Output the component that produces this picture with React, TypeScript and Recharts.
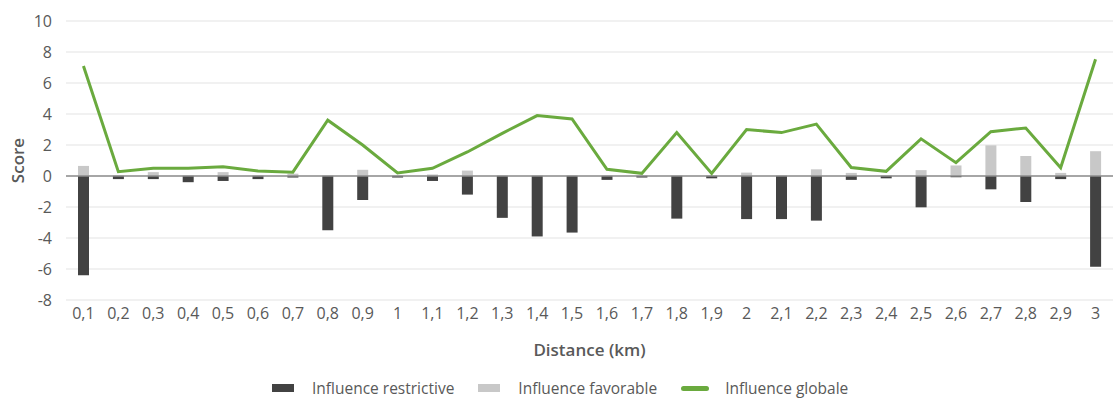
import React from "react"
import { Bar, ComposedChart, CartesianGrid, Legend, Line, ReferenceLine, XAxis, YAxis } from "recharts"

const distances = ["0,1", "0,2", "0,3", "0,4", "0,5", "0,6", "0,7", "0,8", "0,9", "1",
  "1,1", "1,2", "1,3", "1,4", "1,5", "1,6", "1,7", "1,8", "1,9", "2",
  "2,1", "2,2", "2,3", "2,4", "2,5", "2,6", "2,7", "2,8", "2,9", "3"]

const restrictive = [-6.4, -0.2, -0.2, -0.4, -0.32, -0.2, -0.1, -3.5, -1.55, -0.1,
  -0.32, -1.2, -2.7, -3.9, -3.65, -0.25, -0.1, -2.75, -0.15, -2.78,
  -2.78, -2.88, -0.25, -0.15, -2.02, -0.08, -0.86, -1.68, -0.2, -5.85]

const favorable = [0.65, 0.05, 0.25, 0.05, 0.25, 0.05, 0.15, 0.05, 0.4, 0.05,
  0.1, 0.35, 0.05, 0.05, 0.05, 0.05, 0.05, 0.05, 0.05, 0.22,
  0.05, 0.43, 0.2, 0.05, 0.38, 0.68, 1.98, 1.29, 0.2, 1.6]

const globale = [7.1, 0.28, 0.5, 0.5, 0.6, 0.32, 0.25, 3.6, 2.0, 0.2,
  0.5, 1.55, 2.75, 3.9, 3.68, 0.43, 0.17, 2.8, 0.17, 3.0,
  2.8, 3.35, 0.55, 0.3, 2.4, 0.86, 2.86, 3.1, 0.53, 7.53]

const yTicks = [-8, -6, -4, -2, 0, 2, 4, 6, 8, 10]

const seriesNames = ["Influence restrictive", "Influence favorable", "Influence globale"]

const data = distances.map((d, i) => ({
  distance: d,
  restrictive: restrictive[i],
  favorable: favorable[i],
  globale: globale[i],
}))

const font = "'Open Sans', sans-serif"
const textColor = "#595959"

const renderLegend = (props: any) => {
  // keep the series order, recharts sorts by name otherwise
  const payload = [...(props.payload || [])].sort(
    (a: any, b: any) => seriesNames.indexOf(a.value) - seriesNames.indexOf(b.value))
  return (
    <div style={{ height: 39, display: "flex", alignItems: "center", paddingLeft: 272, paddingTop: 17, boxSizing: "border-box", fontFamily: font, fontSize: 15.5, color: textColor }}>
      {payload.map((p: any, i: number) => (
        <div key={i} style={{ display: "flex", alignItems: "center", marginRight: 24 }}>
          {p.type === "plainline"
            ? <span style={{ display: "inline-block", width: 28, height: 5, borderRadius: 3, background: p.color, marginRight: 16 }} />
            : <span style={{ display: "inline-block", width: 22, height: 8, background: p.color, marginRight: 18 }} />}
          <span>{p.value}</span>
        </div>
      ))}
    </div>
  )
}

const ScoreLabel = (props: any) => {
  const vb = props.viewBox || { y: 21, height: 279 }
  const cy = vb.y + vb.height / 2
  return <text x={24} y={cy} transform={`rotate(-90, 24, ${cy})`} textAnchor="middle"
    fill={textColor} fontSize={17} fontWeight={600} fontFamily={font}>Score</text>
}

const App = () => {
  return <div style={{ position: "absolute", left: 0, top: 0 }}>
    <ComposedChart width={1113} height={399} data={data} stackOffset="sign"
      margin={{ top: 21, right: 0, bottom: 0, left: 0 }}>
      <CartesianGrid vertical={false} stroke="#e3e3e3" />
      <XAxis dataKey="distance" axisLine={false} tickLine={false} tickSize={0} tickMargin={8} height={60}
        interval={0} tick={{ fill: textColor, fontSize: 16, fontFamily: font }}
        label={{ value: "Distance (km)", position: "insideBottom", offset: 4, fill: textColor, fontSize: 17, fontWeight: 600, fontFamily: font }} />
      <YAxis domain={[-8, 10]} ticks={yTicks} axisLine={false} tickLine={false} tickSize={0} tickMargin={14} width={66}
        tick={{ fill: textColor, fontSize: 16, fontFamily: font }}
        label={<ScoreLabel />} />
      <ReferenceLine y={0} stroke="#8c8c8c" strokeWidth={1.5} />
      <Bar dataKey="restrictive" name="Influence restrictive" stackId="s" fill="#424242" barSize={11} isAnimationActive={false} />
      <Bar dataKey="favorable" name="Influence favorable" stackId="s" fill="#c8c8c8" barSize={11} isAnimationActive={false} />
      <Line dataKey="globale" name="Influence globale" type="linear" stroke="#6aaa3e" strokeWidth={3} dot={false}
        legendType="plainline" isAnimationActive={false} />
      <Legend verticalAlign="bottom" content={renderLegend} />
    </ComposedChart>
  </div>
}

export default App
